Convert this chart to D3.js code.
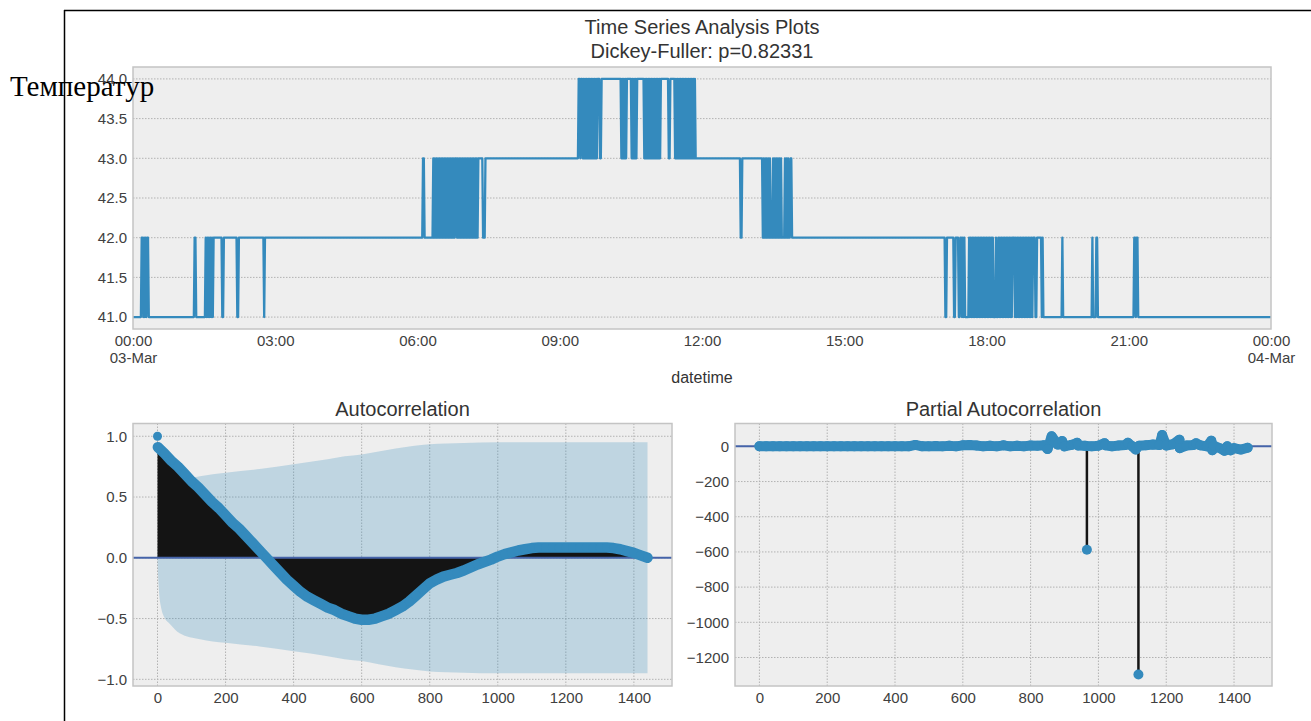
<!DOCTYPE html>
<html>
<head>
<meta charset="utf-8">
<title>Time Series Analysis Plots</title>
<script src="https://cdn.jsdelivr.net/npm/d3@7"></script>
<style>
  body { margin: 0; background: #fff; }
  text { font-family: "Liberation Sans", Arial, sans-serif; }
</style>
</head>
<body>
<svg id="chart" width="1311" height="721"></svg>
<script>
// temperature, one digit per minute (1 = 41, 2 = 42, 3 = 43, 4 = 44),
// one string per hour of 03-Mar, in groups of 10 minutes
var tempHours = [
  "1111111111 1221212122 1111111111 1111111111 1111111111 1111111111", // 00
  "1111111111 1111111122 1111111111 1121212121 2122222222 2221122222", // 01
  "2222222222 2211222222 2222222222 2222222222 2222221222 2222222222", // 02
  "2222222222 2222222222 2222222222 2222222222 2222222222 2222222222", // 03
  "2222222222 2222222222 2222222222 2222222222 2222222222 2222222222", // 04
  "2222222222 2222222222 2222222222 2222222222 2222222222 2222222222", // 05
  "2222222332 2222222222 3232323232 3232323232 3232323233 2323232323", // 06
  "2323232323 2323232333 3332223333 3333333333 3333333333 3333333333", // 07
  "3333333333 3333333333 3333333333 3333333333 3333333333 3333333333", // 08
  "3333333333 3333333333 3333443443 4343434343 4343434344 4334444444", // 09
  "4444444444 4444444434 3434344444 4343434344 4444444343 4343434343", // 10
  "4343434344 4444444433 4444443434 3434343434 3434343434 3433333333", // 11
  "3333333333 3333333333 3333333333 3333333333 3333333332 2333333333", // 12
  "3333333333 3333333232 3232323222 3232323232 3222232323 2233222222", // 13
  "2222222222 2222222222 2222222222 2222222222 2222222222 2222222222", // 14
  "2222222222 2222222222 2222222222 2222222222 2222222222 2222222222", // 15
  "2222222222 2222222222 2222222222 2222222222 2222222222 2222222222", // 16
  "2222222211 2222222221 1222211221 2121111121 2121212121 2121212121", // 17
  "2121212121 1121121212 1212121212 1212221212 1212121212 1212121212", // 18
  "2211222222 1211111111 1111111111 1111112111 1111111111 1111111111", // 19
  "1111111111 1111211112 2111111111 1111111111 1111111111 1111111111", // 20
  "1111111221 2211111111 1111111111 1111111111 1111111111 1111111111", // 21
  "1111111111 1111111111 1111111111 1111111111 1111111111 1111111111", // 22
  "1111111111 1111111111 1111111111 1111111111 1111111111 1111111111"  // 23
];
var tempMidnight = 41; // 04-Mar 00:00
var tempTicks = [41, 41.5, 42, 42.5, 43, 43.5, 44];
var timeTickLabels = ["00:00\n03-Mar", "03:00", "06:00", "09:00", "12:00", "15:00", "18:00", "21:00", "00:00\n04-Mar"];

var acfLags = [0, 1, 20, 40, 60, 80, 100, 120, 140, 160, 180, 200, 220, 240, 260, 280, 300, 320,
  340, 360, 380, 400, 420, 440, 460, 480, 500, 520, 540, 560, 580, 600, 620, 640, 660, 680, 700,
  720, 740, 760, 780, 800, 820, 840, 860, 880, 900, 920, 940, 960, 980, 1000, 1020, 1040, 1060,
  1080, 1100, 1120, 1140, 1160, 1180, 1200, 1220, 1240, 1260, 1280, 1300, 1320, 1340, 1360,
  1380, 1400, 1420, 1440];
var acfValues = [1.0, 0.91, 0.86, 0.80, 0.75, 0.69, 0.63, 0.58, 0.52, 0.46, 0.41, 0.35, 0.29, 0.24,
  0.18, 0.12, 0.06, 0.0, -0.06, -0.12, -0.18, -0.23, -0.28, -0.32, -0.35, -0.38, -0.41, -0.43,
  -0.46, -0.48, -0.50, -0.51, -0.51, -0.50, -0.48, -0.46, -0.43, -0.40, -0.36, -0.31, -0.26,
  -0.21, -0.18, -0.155, -0.14, -0.125, -0.105, -0.08, -0.055, -0.035, -0.015, 0.01, 0.03, 0.045,
  0.06, 0.07, 0.08, 0.085, 0.085, 0.085, 0.085, 0.085, 0.085, 0.085, 0.085, 0.085, 0.085, 0.085,
  0.08, 0.07, 0.055, 0.04, 0.02, 0.0];

// 95% confidence band half width around zero
var confLags = [0, 2, 5, 10, 20, 35, 65, 125, 200, 300, 400, 500, 550, 600, 650, 700, 750, 800, 900, 1000, 1440];
var confHalfWidth = [0, 0.16, 0.30, 0.40, 0.49, 0.54, 0.62, 0.67, 0.70, 0.73, 0.77, 0.81, 0.835,
  0.85, 0.875, 0.90, 0.92, 0.935, 0.945, 0.95, 0.95];

var pacfLags = [0, 20, 40, 60, 80, 100, 120, 140, 160, 180, 200, 220, 240, 260, 280, 300, 320, 340,
  360, 380, 400, 420, 440, 460, 480, 500, 520, 540, 560, 580, 600, 620, 640, 660, 680, 700, 720,
  740, 760, 780, 800, 820, 840, 850, 862, 880, 893, 900, 920, 937, 940, 960, 966, 980, 1000, 1018,
  1020, 1040, 1060, 1080, 1087, 1100, 1110, 1118, 1120, 1140, 1160, 1180, 1188, 1200, 1220, 1239,
  1240, 1260, 1280, 1288, 1300, 1320, 1333, 1336, 1340, 1360, 1372, 1380, 1390, 1400, 1420, 1440];
var pacfValues = [1, 0, 0, 0, 0, 0, 0, 0, 0, 0, 0, 0, 0, 0, 0, 0, 0, 0,
  0, 0, 0, 0, 0, 8, 0, 0, 2, 0, 3, 0, 6, 8, 5, 0, 4, 0, 6,
  0, 3, 0, 5, 4, 6, -15, 58, 10, 30, 0, 8, 20, 5, 3, -588, 0, 4, 18,
  6, 0, 5, 8, 20, 0, -18, -1297, 4, 6, 10, 8, 64, 5, 12, 38,
  -10, 5, 8, 18, 6, 0, 32, -22, 5, -12, -25, 0, -22, -10, -18, -8];

var lagTicks = [0, 200, 400, 600, 800, 1000, 1200, 1400];
var acfTicks = [-1, -0.5, 0, 0.5, 1];
var pacfTicks = [-1200, -1000, -800, -600, -400, -200, 0];

var blue = "#348ABD", zeroBlue = "#4563a9", gridColor = "#b2b2b2", stemColor = "#141414";

var svg = d3.select("#chart");

var topBox = { left: 133, right: 1271, top: 67, bottom: 329 };
var acfBox = { left: 133, right: 672, top: 423.5, bottom: 686 };
var pacfBox = { left: 735, right: 1272, top: 423.5, bottom: 686 };

var day0 = new Date(Date.UTC(2019, 2, 3)), day1 = new Date(Date.UTC(2019, 2, 4));

var xTime = d3.scaleUtc().domain([day0, day1]).range([topBox.left, topBox.right]);
var yTemp = d3.scaleLinear().domain([40.85, 44.15]).range([topBox.bottom, topBox.top]);
var xAcf = d3.scaleLinear().domain([-72, 1512]).range([acfBox.left, acfBox.right]);
var yAcf = d3.scaleLinear().domain([-1.055, 1.105]).range([acfBox.bottom, acfBox.top]);
var xPacf = d3.scaleLinear().domain([-72, 1512]).range([pacfBox.left, pacfBox.right]);
var yPacf = d3.scaleLinear().domain([-1362, 130]).range([pacfBox.bottom, pacfBox.top]);

function panel(box, xScale, yScale, xTicks, yTicks) {
  var g = svg.append("g");
  g.append("rect")
    .attr("x", box.left).attr("y", box.top)
    .attr("width", box.right - box.left).attr("height", box.bottom - box.top)
    .attr("fill", "#eeeeee");
  g.selectAll(null).data(yTicks).enter().append("line")
    .attr("x1", box.left).attr("x2", box.right)
    .attr("y1", d => yScale(d)).attr("y2", d => yScale(d))
    .attr("stroke", gridColor).attr("stroke-width", 1).attr("stroke-dasharray", "1.5,1.5");
  if (xTicks) {
    g.selectAll(null).data(xTicks).enter().append("line")
      .attr("y1", box.top).attr("y2", box.bottom)
      .attr("x1", d => xScale(d)).attr("x2", d => xScale(d))
      .attr("stroke", gridColor).attr("stroke-width", 1).attr("stroke-dasharray", "1.5,1.5");
  }
  return g;
}

function border(box) {
  svg.append("rect")
    .attr("x", box.left).attr("y", box.top)
    .attr("width", box.right - box.left).attr("height", box.bottom - box.top)
    .attr("fill", "none").attr("stroke", "#c4c4c4").attr("stroke-width", 1.5);
}

function styleAxis(g) {
  g.select(".domain").remove();
  g.attr("font-family", null).attr("font-size", null);
  g.selectAll("text").style("font-size", "15px").attr("fill", "#404040");
}

// ---- top: the series
panel(topBox, xTime, yTemp, null, tempTicks);

var tempSeries = [];
tempHours.forEach(function (hour, h) {
  hour.replace(/ /g, "").split("").forEach(function (c, m) {
    tempSeries.push({ t: d3.utcMinute.offset(day0, h * 60 + m), v: 40 + (+c) });
  });
});
tempSeries.push({ t: day1, v: tempMidnight });

svg.append("path")
  .datum(tempSeries)
  .attr("fill", "none").attr("stroke", blue).attr("stroke-width", 2.3)
  .attr("stroke-linejoin", "round")
  .attr("d", d3.line().x(d => xTime(d.t)).y(d => yTemp(d.v)));

border(topBox);

svg.append("g")
  .attr("transform", "translate(" + topBox.left + ",0)")
  .call(d3.axisLeft(yTemp).tickValues(tempTicks).tickSize(0).tickPadding(6).tickFormat(d3.format(".1f")))
  .call(styleAxis);

var timeTicks = timeTickLabels.map((s, i) => d3.utcHour.offset(day0, 3 * i));
var xAxisTop = svg.append("g")
  .attr("transform", "translate(0," + topBox.bottom + ")")
  .call(d3.axisBottom(xTime).tickValues(timeTicks).tickSize(0).tickPadding(6).tickFormat(""))
  .call(styleAxis);
xAxisTop.selectAll(".tick text").each(function (d, i) {
  var lines = timeTickLabels[i].split("\n");
  var t = d3.select(this);
  lines.forEach(function (s, k) {
    t.append("tspan").attr("x", 0).attr("dy", k === 0 ? null : "17px").text(s);
  });
});

svg.append("text").attr("x", (topBox.left + topBox.right) / 2).attr("y", 383)
  .attr("text-anchor", "middle").style("font-size", "16px").attr("fill", "#333").text("datetime");

svg.append("text").attr("x", (topBox.left + topBox.right) / 2).attr("y", 34)
  .attr("text-anchor", "middle").style("font-size", "20px").attr("fill", "#333").text("Time Series Analysis Plots");
svg.append("text").attr("x", (topBox.left + topBox.right) / 2).attr("y", 58)
  .attr("text-anchor", "middle").style("font-size", "20px").attr("fill", "#333").text("Dickey-Fuller: p=0.82331");

// ---- autocorrelation
panel(acfBox, xAcf, yAcf, lagTicks, acfTicks);

var conf = confLags.map((l, i) => ({ lag: l, h: confHalfWidth[i] }));
svg.append("path").datum(conf)
  .attr("fill", blue).attr("fill-opacity", 0.25)
  .attr("d", d3.area().curve(d3.curveMonotoneX)
    .x(d => xAcf(d.lag)).y0(d => yAcf(-d.h)).y1(d => yAcf(d.h)));

var acf = acfLags.map((l, i) => ({ lag: l, v: acfValues[i] }));
svg.append("path").datum(acf)
  .attr("fill", stemColor)
  .attr("d", d3.area().x(d => xAcf(d.lag)).y0(yAcf(0)).y1(d => yAcf(d.v)));

svg.append("line")
  .attr("x1", acfBox.left).attr("x2", acfBox.right)
  .attr("y1", yAcf(0)).attr("y2", yAcf(0))
  .attr("stroke", zeroBlue).attr("stroke-width", 2);

svg.append("path").datum(acf.slice(1))
  .attr("fill", "none").attr("stroke", blue).attr("stroke-width", 10.5)
  .attr("stroke-linecap", "round").attr("stroke-linejoin", "round")
  .attr("d", d3.line().x(d => xAcf(d.lag)).y(d => yAcf(d.v)));
svg.selectAll(null).data(acf).enter().append("circle")
  .attr("cx", d => xAcf(d.lag)).attr("cy", d => yAcf(d.v)).attr("r", 4.5)
  .attr("fill", blue);

border(acfBox);

svg.append("g")
  .attr("transform", "translate(" + acfBox.left + ",0)")
  .call(d3.axisLeft(yAcf).tickValues(acfTicks).tickSize(0).tickPadding(6).tickFormat(d3.format(".1f")))
  .call(styleAxis);
svg.append("g")
  .attr("transform", "translate(0," + acfBox.bottom + ")")
  .call(d3.axisBottom(xAcf).tickValues(lagTicks).tickSize(0).tickPadding(6).tickFormat(d3.format("d")))
  .call(styleAxis);

svg.append("text").attr("x", (acfBox.left + acfBox.right) / 2).attr("y", 416)
  .attr("text-anchor", "middle").style("font-size", "20px").attr("fill", "#333").text("Autocorrelation");

// ---- partial autocorrelation
panel(pacfBox, xPacf, yPacf, lagTicks, pacfTicks);

var pacf = pacfLags.map((l, i) => ({ lag: l, v: pacfValues[i] }));
svg.selectAll(null).data(pacf).enter().append("line")
  .attr("x1", d => xPacf(d.lag)).attr("x2", d => xPacf(d.lag))
  .attr("y1", yPacf(0)).attr("y2", d => yPacf(d.v))
  .attr("stroke", stemColor).attr("stroke-width", 2.5);

svg.append("line")
  .attr("x1", pacfBox.left).attr("x2", pacfBox.right)
  .attr("y1", yPacf(0)).attr("y2", yPacf(0))
  .attr("stroke", zeroBlue).attr("stroke-width", 2);

// markers are packed so tightly near zero that they merge into a band
svg.append("path").datum(pacf.filter(d => Math.abs(d.v) < 100))
  .attr("fill", "none").attr("stroke", blue).attr("stroke-width", 10)
  .attr("stroke-linecap", "round").attr("stroke-linejoin", "round")
  .attr("d", d3.line().x(d => xPacf(d.lag)).y(d => yPacf(d.v)));
svg.selectAll(null).data(pacf).enter().append("circle")
  .attr("cx", d => xPacf(d.lag)).attr("cy", d => yPacf(d.v)).attr("r", 5)
  .attr("fill", blue);

border(pacfBox);

svg.append("g")
  .attr("transform", "translate(" + pacfBox.left + ",0)")
  .call(d3.axisLeft(yPacf).tickValues(pacfTicks).tickSize(0).tickPadding(6).tickFormat(d3.format("d")))
  .call(styleAxis);
svg.append("g")
  .attr("transform", "translate(0," + pacfBox.bottom + ")")
  .call(d3.axisBottom(xPacf).tickValues(lagTicks).tickSize(0).tickPadding(6).tickFormat(d3.format("d")))
  .call(styleAxis);

svg.append("text").attr("x", (pacfBox.left + pacfBox.right) / 2).attr("y", 416)
  .attr("text-anchor", "middle").style("font-size", "20px").attr("fill", "#333").text("Partial Autocorrelation");

// ---- page frame and stray label
svg.append("line").attr("x1", 64.5).attr("x2", 64.5).attr("y1", 10).attr("y2", 721)
  .attr("stroke", "#000").attr("stroke-width", 1.5);
svg.append("line").attr("x1", 64).attr("x2", 1311).attr("y1", 10.5).attr("y2", 10.5)
  .attr("stroke", "#000").attr("stroke-width", 1.5);
svg.append("text").attr("x", 10).attr("y", 96)
  .style("font-family", "'Liberation Serif', 'Times New Roman', serif").style("font-size", "29px")
  .attr("fill", "#000").text("Температур");
</script>
</body>
</html>
